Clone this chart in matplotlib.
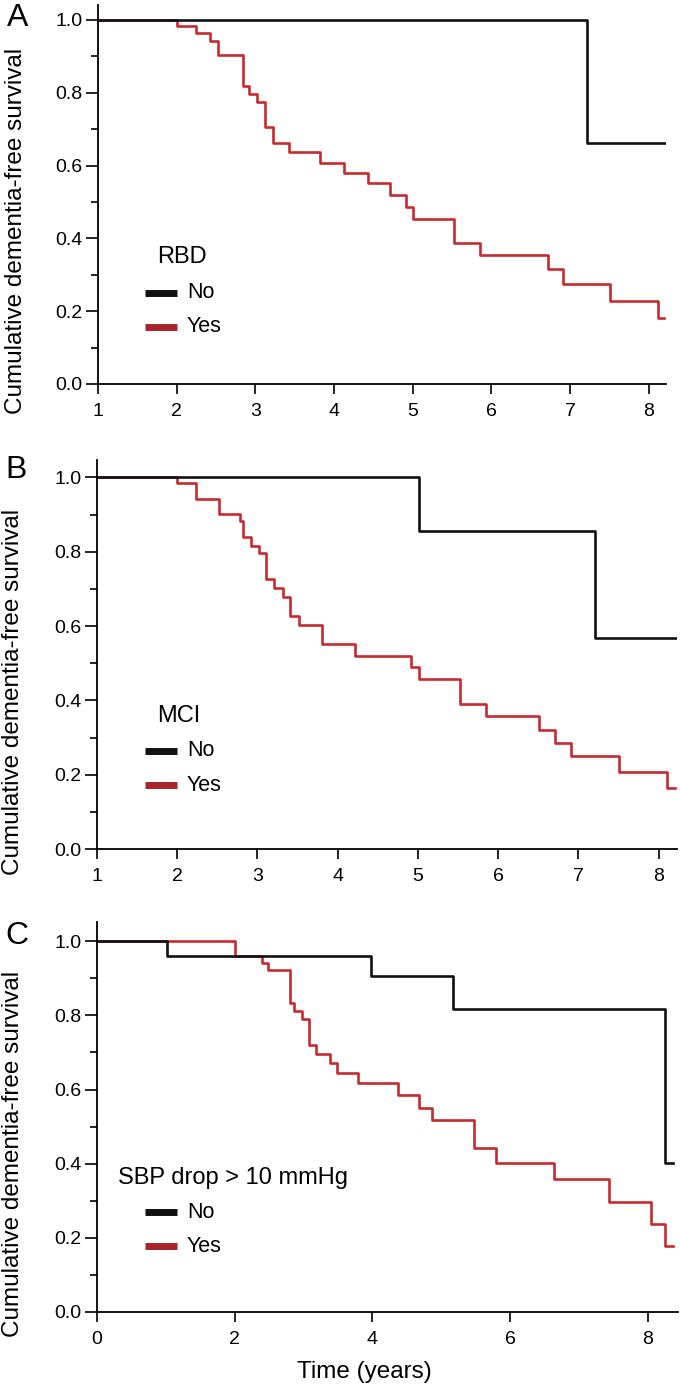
"""
Kaplan-Meier dementia-free survival, three panels (RBD / MCI / SBP drop).
"""

import matplotlib
matplotlib.use("Agg")
import matplotlib.pyplot as plt
from matplotlib.lines import Line2D
from matplotlib.ticker import MultipleLocator

plt.rcParams["font.family"] = ["Liberation Sans", "DejaVu Sans"]

W, H = 680, 1386
RED = "#c62a2f"
RED_KEY = "#a8232a"
BLACK = "#111111"

# ---- data ----
# Panel A: RBD
a_no_t = [1.0, 7.22, 8.22]
a_no_s = [1.0, 0.663, 0.663]
a_yes_t = [1.0, 2.0, 2.245, 2.42, 2.52, 2.84, 2.92, 3.02, 3.12, 3.22, 3.43,
           3.82, 4.13, 4.43, 4.71, 4.92, 5.01, 5.52, 5.85, 6.72, 6.91, 7.51,
           8.12, 8.20]
a_yes_s = [1.0, 0.983, 0.963, 0.942, 0.904, 0.819, 0.796, 0.774, 0.707,
           0.661, 0.636, 0.608, 0.580, 0.551, 0.519, 0.487, 0.452, 0.386,
           0.354, 0.315, 0.274, 0.228, 0.180, 0.180]

# Panel B: MCI
b_no_t = [1.0, 5.01, 7.21, 8.23]
b_no_s = [1.0, 0.857, 0.569, 0.569]
b_yes_t = [1.0, 2.0, 2.23, 2.52, 2.78, 2.82, 2.92, 3.02, 3.11, 3.21, 3.32,
           3.41, 3.52, 3.81, 4.22, 4.92, 5.01, 5.52, 5.85, 6.51, 6.71, 6.91,
           7.51, 8.11, 8.21]
b_yes_s = [1.0, 0.985, 0.942, 0.902, 0.884, 0.840, 0.816, 0.797, 0.727,
           0.702, 0.678, 0.626, 0.602, 0.552, 0.520, 0.489, 0.457, 0.390,
           0.359, 0.321, 0.285, 0.249, 0.206, 0.164, 0.164]

# Panel C: SBP drop > 10 mmHg
c_no_t = [0.0, 1.02, 3.98, 5.17, 8.24, 8.37]
c_no_s = [1.0, 0.960, 0.906, 0.817, 0.402, 0.402]
c_yes_t = [0.0, 2.0, 2.39, 2.49, 2.80, 2.86, 2.97, 3.08, 3.18, 3.39, 3.48,
           3.79, 4.37, 4.67, 4.87, 5.47, 5.80, 6.64, 7.44, 8.05, 8.24, 8.37]
c_yes_s = [1.0, 0.960, 0.942, 0.922, 0.834, 0.812, 0.790, 0.721, 0.697,
           0.672, 0.645, 0.619, 0.585, 0.550, 0.519, 0.442, 0.402, 0.358,
           0.297, 0.238, 0.177, 0.177]

legend_titles = ["RBD", "MCI", "SBP drop > 10 mmHg"]
panel_letters = ["A", "B", "C"]
group_labels = ["No", "Yes"]
y_label = "Cumulative dementia-free survival"
x_label = "Time (years)"


def fx(px):
    return px / W


def fy(py):
    return 1 - py / H


def make_axes(fig, left, right, top, bottom):
    return fig.add_axes([fx(left), fy(bottom), (right - left) / W, (bottom - top) / H])


def style_axes(ax, xlim, ytop, xticks):
    ax.set_xlim(*xlim)
    ax.set_ylim(0, ytop)
    for side in ("top", "right"):
        ax.spines[side].set_visible(False)
    for side in ("left", "bottom"):
        ax.spines[side].set_linewidth(1.3)
    ax.set_xticks(xticks)
    ax.yaxis.set_minor_locator(MultipleLocator(0.1))
    ax.set_yticks([0, 0.2, 0.4, 0.6, 0.8, 1.0])
    ax.set_yticklabels(["0.0", "0.2", "0.4", "0.6", "0.8", "1.0"])
    ax.tick_params(axis="y", which="major", length=9, width=1.2, pad=2, labelsize=14)
    ax.tick_params(axis="y", which="minor", length=5, width=1.2)
    ax.tick_params(axis="x", which="major", length=7, width=1.2, pad=6.5, labelsize=14)
    ax.set_ylabel(y_label, fontsize=17.5, va="center")
    ax.yaxis.set_label_coords(-0.145, 0.405)


def draw_key(fig, title, title_x, title_y, row1_y, row2_y):
    fig.text(fx(title_x), fy(title_y), title, fontsize=17, ha="left", va="center")
    for color, label, yy in [(BLACK, group_labels[0], row1_y), (RED_KEY, group_labels[1], row2_y)]:
        fig.add_artist(Line2D([fx(145), fx(177)], [fy(yy), fy(yy)], color=color,
                              linewidth=5, solid_capstyle="butt"))
        fig.text(fx(187), fy(yy), label, fontsize=15.5, ha="left", va="center")


fig = plt.figure(figsize=(W / 100, H / 100), dpi=100)

panels = [
    dict(rect=(98, 666, 5, 384), xlim=(1, 8.22), ytop=1.041, xticks=range(1, 9),
         no=(a_no_t, a_no_s), yes=(a_yes_t, a_yes_s),
         key=(157, 257, 293, 327), letter=(7, 18)),
    dict(rect=(97, 677, 460, 849), xlim=(1, 8.23), ytop=1.047, xticks=range(1, 9),
         no=(b_no_t, b_no_s), yes=(b_yes_t, b_yes_s),
         key=(157, 716, 751, 785), letter=(5, 470)),
    dict(rect=(97, 678, 922, 1312), xlim=(0, 8.436), ytop=1.052, xticks=[0, 2, 4, 6, 8],
         no=(c_no_t, c_no_s), yes=(c_yes_t, c_yes_s),
         key=(118, 1178, 1212, 1246), letter=(5, 936)),
]

for i, p in enumerate(panels):
    ax = make_axes(fig, *p["rect"])
    ax.step(p["yes"][0], p["yes"][1], where="post", color=RED, linewidth=1.9, zorder=2)
    ax.step(p["no"][0], p["no"][1], where="post", color=BLACK, linewidth=1.9, zorder=3)
    style_axes(ax, p["xlim"], p["ytop"], list(p["xticks"]))
    draw_key(fig, legend_titles[i], *p["key"])
    fig.text(fx(p["letter"][0]), fy(p["letter"][1]), panel_letters[i],
             fontsize=23, ha="left", va="center")
    if i == 2:
        ax.set_xlabel(x_label, fontsize=17.5, va="center")
        ax.xaxis.set_label_coords(0.461, -0.154)

fig.savefig("out.png", dpi=100)
